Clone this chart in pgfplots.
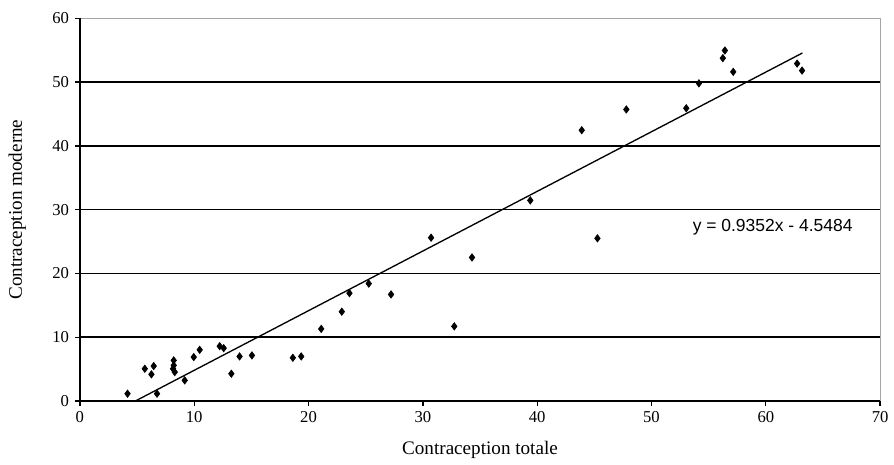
\documentclass[border=0pt]{standalone}
\usepackage{fontspec}
\setmainfont{Liberation Serif}
\newfontfamily\arial{Liberation Sans}
\usepackage{pgfplots}
\pgfplotsset{compat=1.18}
\begin{document}
\begin{tikzpicture}
\begin{axis}[
  scale only axis,
  width=481pt, height=230pt,
  xmin=0, xmax=70, ymin=0, ymax=60,
  xtick={0,10,...,70}, ytick={0,10,...,60},
  xtick pos=bottom, ytick pos=left,
  /pgf/number format/assume math mode=true,
  ticklabel style={font=\fontsize{10}{12}\selectfont},
  label style={font=\fontsize{11.5}{13}\selectfont},
  xlabel={Contraception totale},
  ylabel={Contraception moderne},
  xlabel style={yshift=-4pt},
  ylabel style={yshift=9pt},
  tick align=outside,
  tick style={black, line width=0.8pt},
  major tick length=3pt,
  axis line style={gray!70, line width=0.6pt},
  ymajorgrids,
  grid style={black, line width=0.9pt},
  clip=false,
]
\addplot[only marks, mark=diamond*, mark size=2.2pt, black] coordinates {
(4.17,1.14) (5.68,5.05) (6.46,5.47) (6.26,4.17) (6.75,1.14)
(8.21,6.36) (8.21,5.58) (8.15,5.05) (8.30,4.53) (9.17,3.23)
(9.96,6.88) (10.48,8.02) (12.23,8.59) (12.58,8.28) (13.25,4.27)
(13.97,6.98) (15.05,7.14) (18.63,6.77) (19.36,6.98) (21.11,11.3)
(22.91,14.0) (23.58,16.9) (25.27,18.4) (27.22,16.7) (30.72,25.6)
(32.75,11.7) (34.3,22.5) (39.4,31.45) (45.27,25.5) (43.9,42.45)
(47.8,45.7) (53.04,45.9) (54.15,49.8) (56.24,53.75) (56.42,54.95)
(57.15,51.6) (62.74,52.9) (63.17,51.8)
};
\addplot[black, line width=0.8pt] coordinates {(4.864,0) (63.2,54.557)};
\draw[black, line width=1pt] (axis cs:0,0) -- (axis cs:0,60);
\draw[black, line width=1pt] (axis cs:0,0) -- (axis cs:70,0);
\node[font=\arial\fontsize{10.5}{12}\selectfont] at (axis cs:60.6,27.3) {y = 0.9352x - 4.5484};
\coordinate (sw) at (rel axis cs:0,0);
\coordinate (ne) at (rel axis cs:1,1);
\end{axis}
\path ([shift={(-48pt,-34pt)}]sw) rectangle ([shift={(6pt,11pt)}]ne);
\end{tikzpicture}
\end{document}
